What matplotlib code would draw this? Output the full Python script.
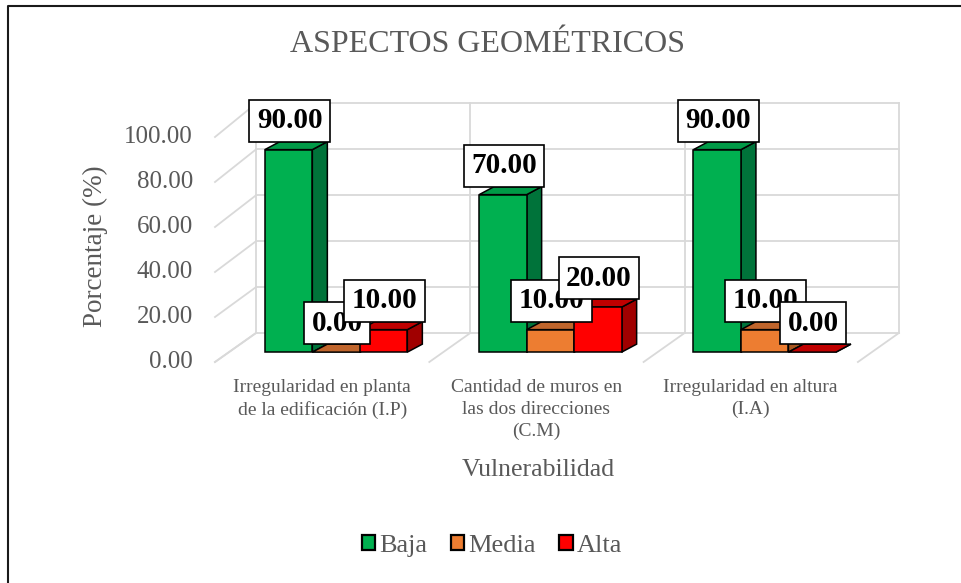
import numpy as np
import matplotlib
matplotlib.use('Agg')
import matplotlib.pyplot as plt
from matplotlib.patches import Rectangle, Polygon, Patch
from matplotlib.lines import Line2D

# data
categories = ['Irregularidad en planta\nde la edificación (I.P)',
              'Cantidad de muros en\nlas dos direcciones\n(C.M)',
              'Irregularidad en altura\n(I.A)']
series = ['Baja', 'Media', 'Alta']
baja = [90.0, 70.0, 90.0]
media = [0.0, 10.0, 10.0]
alta = [10.0, 20.0, 0.0]
yticks = [0, 20, 40, 60, 80, 100]

values = [baja, media, alta]
front_col = ['#00b050', '#ed7d31', '#ff0000']
side_col = ['#00733a', '#a8561f', '#a00000']
top_col = ['#009a47', '#c0652c', '#c00000']
gray = '#595959'

plt.rcParams['font.family'] = ['Liberation Serif', 'DejaVu Serif']

W, H = 962, 583
fig = plt.figure(figsize=(W / 100, H / 100), dpi=100)
ax = fig.add_axes([0, 0, 1, 1])
ax.axis('off')

# pseudo-3d layout (front plane: x in category units, y in value units)
px_cat = 214.3          # pixels per category
px_val = 2.25           # pixels per value unit
x0_px, y0_px = 215, 362
ax.set_xlim(-0.5 - x0_px / px_cat, -0.5 + (W - x0_px) / px_cat)
ax.set_ylim((y0_px - H) / px_val, y0_px / px_val)

DX, DY = 41 / px_cat, 29 / px_val        # floor depth
back_scale = 1.02
bz = 0.34                                # bar front position in depth
bdx, bdy = 15 / px_cat, 8 / px_val       # bar depth
bw = 47.5 / px_cat                       # bar width
ncat = len(categories)
grid_kw = dict(color='#d9d9d9', lw=1.3, zorder=1)

# back wall + left wall + floor lines
for v in yticks:
    yb = v * back_scale + DY
    ax.plot([-0.5 + DX, ncat - 0.5 + DX], [yb, yb], **grid_kw)
    ax.plot([-0.5, -0.5 + DX], [v, yb], **grid_kw)
for i in range(ncat + 1):
    b = i - 0.5
    ax.plot([b + DX, b + DX], [DY, 100 * back_scale + DY], **grid_kw)
    ax.plot([b, b + DX], [0, DY], **grid_kw)

# bars
z = 3
for i in range(ncat):
    for j in range(len(series)):
        v = values[j][i]
        xl = i + bz * DX + (j - 1.5) * bw
        yb = bz * DY
        yt = yb + v
        ec = dict(edgecolor='black', lw=1.1, zorder=z)
        ax.add_patch(Polygon([(xl + bw, yb), (xl + bw + bdx, yb + bdy),
                              (xl + bw + bdx, yt + bdy), (xl + bw, yt)],
                             facecolor=side_col[j], **ec))
        ax.add_patch(Polygon([(xl, yt), (xl + bw, yt), (xl + bw + bdx, yt + bdy),
                              (xl + bdx, yt + bdy)], facecolor=top_col[j], **ec))
        if v > 0:
            ax.add_patch(Rectangle((xl, yb), bw, v, facecolor=front_col[j], **ec))
        z += 1

# data labels
for i in range(ncat):
    for j in range(len(series)):
        v = values[j][i]
        xc = i + bz * DX + (j - 1) * bw + 0.005
        yc = bz * DY + v + bdy + 9.3
        ax.text(xc, yc, f'{v:.2f}', ha='center', va='center', fontsize=21,
                fontweight='bold', color='black', zorder=50,
                bbox=dict(boxstyle='square,pad=0.26', fc='white', ec='black', lw=1.2))

# y tick labels
for v in yticks:
    ax.text(-0.5 - 22 / px_cat, v, f'{v:.2f}', ha='right', va='center',
            fontsize=18, color=gray)

# category labels
for i, c in enumerate(categories):
    ax.text(i, -7.6, c, ha='center', va='top', fontsize=14, color=gray,
            linespacing=1.35)

fig.text(488 / W, 1 - 45 / H, 'ASPECTOS GEOMÉTRICOS', ha='center', va='center',
         fontsize=23, color=gray)
fig.text(95 / W, 1 - 246 / H, 'Porcentaje (%)', ha='center', va='center',
         rotation=90, fontsize=19.5, color=gray)
fig.text(538 / W, 1 - 470 / H, 'Vulnerabilidad', ha='center', va='center',
         fontsize=18.5, color=gray)

handles = [Patch(facecolor=front_col[j], edgecolor='black', lw=1.6, label=series[j])
           for j in range(len(series))]
leg = fig.legend(handles=handles, loc='center', bbox_to_anchor=(492 / W, 1 - 546 / H),
                 ncol=3, frameon=False, fontsize=19, handlelength=0.5,
                 handleheight=0.5, handletextpad=0.15, columnspacing=0.9)
for t in leg.get_texts():
    t.set_color(gray)

# chart border (left and top visible)
fig.add_artist(Line2D([8 / W, 8 / W, 1], [0, 1 - 6 / H, 1 - 6 / H],
                      transform=fig.transFigure, color='#1a1a1a', lw=1.5))

fig.savefig('out.png', dpi=100)
